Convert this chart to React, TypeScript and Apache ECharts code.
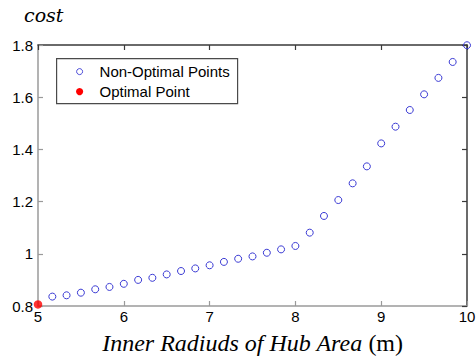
import React, { useEffect, useRef } from "react";
import * as echarts from "echarts";

// Inner radius of hub area (m)
const radiusValues = [
  5, 5.167, 5.333, 5.5, 5.667, 5.833, 6, 6.167, 6.333, 6.5, 6.667, 6.833, 7, 7.167,
  7.333, 7.5, 7.667, 7.833, 8, 8.167, 8.333, 8.5, 8.667, 8.833, 9, 9.167, 9.333, 9.5,
  9.667, 9.833, 10,
];
// cost for the non-optimal points (radius 5.167 .. 10)
const nonOptimalCost = [
  0.836, 0.841, 0.851, 0.864, 0.873, 0.885, 0.9, 0.908, 0.921, 0.934, 0.944, 0.956,
  0.969, 0.981, 0.99, 1.004, 1.017, 1.03, 1.081, 1.145, 1.206, 1.27, 1.335, 1.423,
  1.487, 1.551, 1.611, 1.674, 1.735, 1.799,
];
const optimalRadius = [5];
const optimalCost = [0.806];

const xMin = 5;
const xMax = 10;
const xStep = 1;
const yMin = 0.8;
const yMax = 1.8;
const yStep = 0.2;

const legendLabels = ["Non-Optimal Points", "Optimal Point"];
const yTitle = "cost";
const xTitleItalic = "Inner Radiuds of Hub Area ";
const xTitleUnit = "(m)";

const BLUE = "#3a3ad4";
const RED = "#ff0000";
const SANS = "'Liberation Sans', Arial, sans-serif";
const SERIF = "'Liberation Serif', 'Times New Roman', serif";

export default function App() {
  const ref = useRef<HTMLDivElement>(null);

  useEffect(() => {
    document.body.style.margin = "0";
    const chart = echarts.init(ref.current!, null, { renderer: "svg" });

    const nonOptData = nonOptimalCost.map((c, i) => [radiusValues[i + 1], c]);
    const optData = optimalCost.map((c, i) => [optimalRadius[i], c]);

    const baseAxisLine = (color: string) => ({
      show: true,
      onZero: false,
      lineStyle: { color, width: 1.5 },
    });
    const baseTick = (color: string) => ({
      show: true,
      inside: true,
      length: 5,
      lineStyle: { color, width: 1.2 },
    });

    chart.setOption({
      animation: false,
      backgroundColor: "#ffffff",
      grid: {
        left: 38,
        right: 9,
        top: 45,
        bottom: 54,
        containLabel: false,
        outerBoundsMode: "none",
      },
      xAxis: [
        {
          type: "value",
          position: "bottom",
          min: xMin,
          max: xMax,
          interval: xStep,
          axisLine: baseAxisLine("#9a9a9a"),
          axisTick: baseTick("#9a9a9a"),
          splitLine: { show: false },
          axisLabel: {
            color: "#000",
            fontSize: 15,
            fontFamily: SANS,
            margin: 3,
          },
          name: `{i|${xTitleItalic}}{n|${xTitleUnit}}`,
          nameLocation: "middle",
          nameGap: 24,
          nameTextStyle: {
            rich: {
              i: {
                fontFamily: SERIF,
                fontStyle: "italic",
                fontSize: 24,
                lineHeight: 26,
                color: "#000",
              },
              n: {
                fontFamily: SERIF,
                fontSize: 24,
                lineHeight: 26,
                color: "#000",
              },
            },
          },
        },
        {
          type: "value",
          position: "top",
          min: xMin,
          max: xMax,
          interval: xStep,
          axisLine: baseAxisLine("#3a3a3a"),
          axisTick: baseTick("#3a3a3a"),
          splitLine: { show: false },
          axisLabel: { show: false },
        },
      ],
      yAxis: [
        {
          type: "value",
          position: "left",
          min: yMin,
          max: yMax,
          interval: yStep,
          axisLine: baseAxisLine("#9a9a9a"),
          axisTick: baseTick("#9a9a9a"),
          splitLine: { show: false },
          axisLabel: {
            color: "#000",
            fontSize: 15,
            fontFamily: SANS,
            margin: 5,
            formatter: (v: number) => String(+v.toFixed(1)),
          },
        },
        {
          type: "value",
          position: "right",
          min: yMin,
          max: yMax,
          interval: yStep,
          axisLine: baseAxisLine("#3a3a3a"),
          axisTick: baseTick("#3a3a3a"),
          splitLine: { show: false },
          axisLabel: { show: false },
        },
      ],
      series: [
        {
          name: legendLabels[0],
          type: "scatter",
          xAxisIndex: 0,
          yAxisIndex: 0,
          data: nonOptData,
          symbol: "circle",
          symbolSize: 7,
          clip: false,
          itemStyle: {
            color: "rgba(255,255,255,0)",
            borderColor: BLUE,
            borderWidth: 1,
            opacity: 1,
          },
          z: 3,
        },
        {
          name: legendLabels[1],
          type: "scatter",
          xAxisIndex: 0,
          yAxisIndex: 0,
          data: optData,
          symbol: "circle",
          symbolSize: 8.5,
          clip: false,
          itemStyle: { color: RED },
          z: 4,
        },
      ],
      graphic: [
        {
          type: "text",
          left: 24,
          top: 5,
          style: {
            text: yTitle,
            fill: "#000",
            font: "italic 19px 'DejaVu Serif', serif",
          },
        },
        {
          type: "group",
          left: 56,
          top: 58,
          z: 10,
          children: [
            {
              type: "rect",
              shape: { x: 0, y: 0, width: 181, height: 45 },
              style: { fill: "#fff", stroke: "#4a4a4a", lineWidth: 1.2 },
            },
            {
              type: "circle",
              shape: { cx: 23, cy: 13, r: 3 },
              style: { fill: "none", stroke: BLUE, lineWidth: 0.9 },
            },
            {
              type: "circle",
              shape: { cx: 23, cy: 33, r: 3.6 },
              style: { fill: RED },
            },
            {
              type: "text",
              x: 43,
              y: 13,
              style: {
                text: legendLabels[0],
                fill: "#000",
                font: `15px ${SANS}`,
                verticalAlign: "middle",
              },
            },
            {
              type: "text",
              x: 43,
              y: 33,
              style: {
                text: legendLabels[1],
                fill: "#000",
                font: `15px ${SANS}`,
                verticalAlign: "middle",
              },
            },
          ],
        },
      ],
    });

    return () => chart.dispose();
  }, []);

  return <div ref={ref} style={{ width: 476, height: 360 }} />;
}
